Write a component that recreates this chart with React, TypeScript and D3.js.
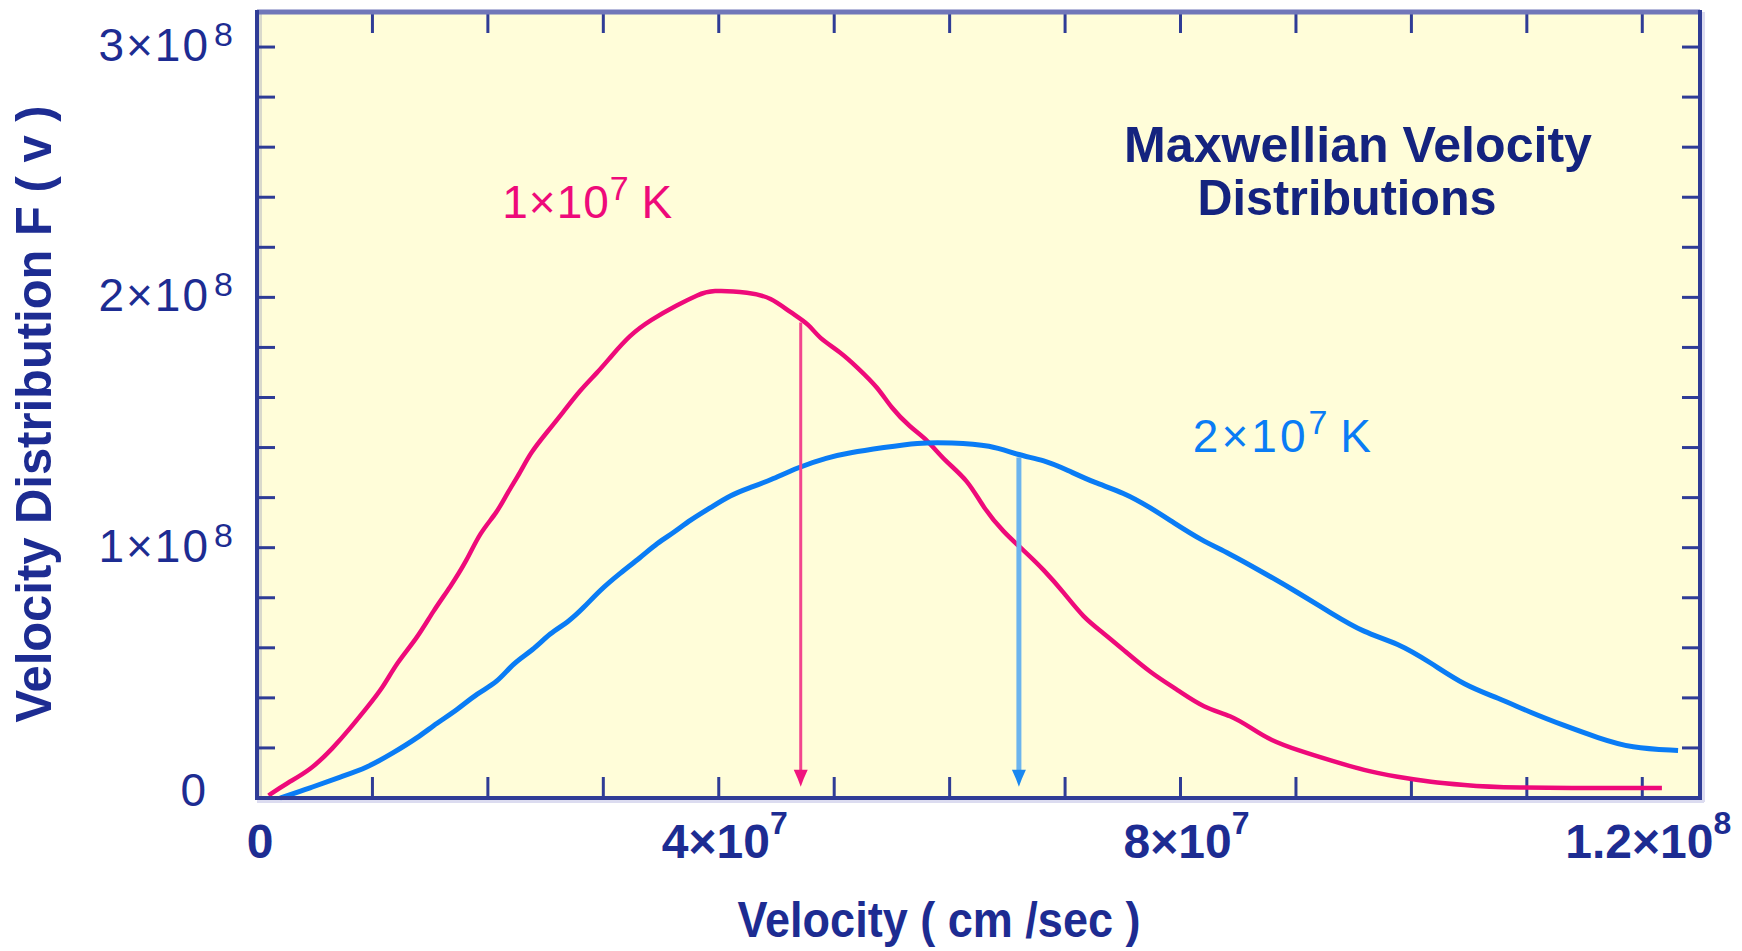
import React from "react";
import * as d3 from "d3";

// ---- data (velocity in cm/s, F(v) in arbitrary units) ----
const redVelocity = [0.10, 0.26, 0.46, 0.66, 0.81, 0.95, 1.09, 1.21, 1.39, 1.53, 1.67, 1.82, 1.93, 2.08, 2.17, 2.28, 2.37, 2.51, 2.65, 2.80, 2.95, 3.06, 3.23, 3.41, 3.64, 3.82, 3.93, 4.27, 4.45, 4.62, 4.79, 4.86, 5.06, 5.20, 5.38, 5.49, 5.66, 5.81, 5.95, 6.16, 6.29, 6.47, 6.64, 6.82, 6.99, 7.16, 7.33, 7.51, 7.74, 7.98, 8.20, 8.44, 8.61, 8.78, 9.02, 9.30, 9.59, 9.88, 10.17, 10.46, 10.75, 12.17].map(v => v * 1e7);
const redF = [0.01, 0.06, 0.11, 0.20, 0.28, 0.36, 0.44, 0.54, 0.64, 0.75, 0.84, 0.95, 1.06, 1.14, 1.22, 1.30, 1.38, 1.46, 1.54, 1.63, 1.70, 1.76, 1.85, 1.91, 1.97, 2.01, 2.03, 2.02, 2.00, 1.94, 1.89, 1.84, 1.78, 1.72, 1.64, 1.56, 1.48, 1.43, 1.35, 1.27, 1.16, 1.06, 0.99, 0.91, 0.82, 0.72, 0.66, 0.59, 0.50, 0.43, 0.36, 0.33, 0.28, 0.23, 0.19, 0.15, 0.11, 0.084, 0.064, 0.052, 0.04, 0.04].map(f => f * 1e8);

const blueVelocity = [0.20, 0.46, 0.72, 0.95, 1.18, 1.39, 1.56, 1.73, 1.91, 2.08, 2.22, 2.39, 2.54, 2.69, 2.83, 2.97, 3.15, 3.32, 3.47, 3.61, 3.75, 3.93, 4.10, 4.27, 4.45, 4.68, 4.94, 5.14, 5.43, 5.72, 6.01, 6.36, 6.59, 6.82, 7.02, 7.25, 7.51, 7.74, 7.94, 8.18, 8.41, 8.72, 9.02, 9.30, 9.59, 9.88, 10.17, 10.46, 10.75, 11.04, 11.32, 11.62, 11.90, 12.31].map(v => v * 1e7);
const blueF = [0.0, 0.04, 0.084, 0.12, 0.18, 0.24, 0.30, 0.35, 0.42, 0.46, 0.54, 0.59, 0.66, 0.70, 0.76, 0.83, 0.90, 0.96, 1.02, 1.06, 1.11, 1.16, 1.21, 1.24, 1.27, 1.32, 1.36, 1.38, 1.40, 1.42, 1.42, 1.41, 1.37, 1.35, 1.31, 1.26, 1.22, 1.16, 1.10, 1.03, 0.98, 0.90, 0.82, 0.74, 0.66, 0.62, 0.54, 0.45, 0.40, 0.34, 0.29, 0.24, 0.20, 0.19].map(f => f * 1e8);

// mean-speed arrows
const arrowVelocity = [4.71e7, 6.60e7];
const arrowTopF = [1.90e8, 1.36e8];
const arrowTipF = 0.045e8;

// tick labels
const xLabelValues = [0, 4e7, 8e7, 1.2e8];
const xLabelBases = ["0", "4×10", "8×10", "1.2×10"];
const xLabelExps = ["", "7", "7", "8"];
const yLabelValues = [0, 1e8, 2e8, 3e8];
const yLabelBases = ["0", "1×10", "2×10", "3×10"];
const yLabelExps = ["", "8", "8", "8"];

const tempLabels = ["1×10", "2×10"];
const tempExps = ["7", "7"];
const tempLabelV = [2.124e7, 8.107e7];
const tempLabelF = [2.317e8, 1.382e8];

// ---- layout ----
const W = 1742, H = 951;
const L = 257, R = 1700, T = 12, B = 798;
const RED = "#ee0a7a";
const BLUE = "#0a7cf5";
const AXIS = "#2f3c96";
const TEXT = "#1d2c92";
const FONT = "'Liberation Sans', Arial, Helvetica, sans-serif";

export default function App() {
  const x = d3.scaleLinear().domain([0, 1.25e8]).range([L, R]);
  const y = d3.scaleLinear().domain([0, 3.14e8]).range([B, T]);

  const line = d3.line<[number, number]>()
    .x(d => x(d[0]))
    .y(d => y(d[1]))
    .curve(d3.curveBasis);

  const redPts = redVelocity.map((v, i) => [v, redF[i]] as [number, number]);
  const bluePts = blueVelocity.map((v, i) => [v, blueF[i]] as [number, number]);

  const xMinor = d3.range(1, 13).map(i => i * 1e7);
  const yMinor = d3.range(1, 16).map(i => i * 0.2e8);

  const arrowColors = ["#f2468e", "#6cb4ee"];
  const headColors = ["#f0157e", "#1a88f0"];
  const arrowWidths = [3, 5];

  return (
    <svg width={W} height={H} style={{ position: "absolute", left: 0, top: 0, display: "block", background: "#ffffff" }} fontFamily={FONT}>
      {/* plot background */}
      <rect x={L} y={T} width={R - L} height={B - T} fill="#fffdd9" />
      {/* soft shadows */}
      <rect x={L + 2} y={T} width={3} height={B - T} fill="#d9d9cc" />
      <rect x={L} y={B + 2} width={R - L + 4} height={3} fill="#dcdcf0" />
      <rect x={R + 2} y={T} width={3} height={B - T + 4} fill="#dcdcf0" />

      {/* ticks */}
      {xMinor.map((v, i) => (
        <g key={"xt" + i} stroke={AXIS} strokeWidth={3}>
          <line x1={x(v)} x2={x(v)} y1={B} y2={B - 21} />
          <line x1={x(v)} x2={x(v)} y1={T} y2={T + 21} />
        </g>
      ))}
      {yMinor.map((v, i) => (
        <g key={"yt" + i} stroke={AXIS} strokeWidth={3}>
          <line x1={L} x2={L + 18} y1={y(v)} y2={y(v)} />
          <line x1={R} x2={R - 18} y1={y(v)} y2={y(v)} />
        </g>
      ))}

      {/* curves */}
      <path d={line(redPts) || ""} fill="none" stroke={RED} strokeWidth={4.5} strokeLinejoin="round" />
      <path d={line(bluePts) || ""} fill="none" stroke={BLUE} strokeWidth={5} strokeLinejoin="round" />

      {/* arrows */}
      {arrowVelocity.map((v, i) => {
        const ax = x(v);
        const tip = y(arrowTipF);
        return (
          <g key={"ar" + i}>
            <line x1={ax} x2={ax} y1={y(arrowTopF[i])} y2={tip - 10} stroke={arrowColors[i]} strokeWidth={arrowWidths[i]} />
            <polygon points={`${ax - 7},${tip - 17} ${ax + 7},${tip - 17} ${ax + 3},${tip - 8} ${ax},${tip} ${ax - 3},${tip - 8}`} fill={headColors[i]} />
          </g>
        );
      })}

      {/* frame */}
      <line x1={L} x2={R} y1={T} y2={T} stroke="#7177b9" strokeWidth={5} />
      <line x1={L} x2={L} y1={T - 2} y2={B + 2} stroke={AXIS} strokeWidth={4} />
      <line x1={R} x2={R} y1={T - 2} y2={B + 2} stroke={AXIS} strokeWidth={4} />
      <line x1={L - 2} x2={R + 2} y1={B} y2={B} stroke={AXIS} strokeWidth={4} />

      {/* y tick labels */}
      {yLabelValues.map((v, i) => (
        <g key={"yl" + i} fill={TEXT}>
          <text x={v === 0 ? 206 : 210} y={y(v) + (v === 0 ? 8 : 14)} fontSize={46} textAnchor="end" letterSpacing={v === 0 ? 0 : 2}>{yLabelBases[i]}</text>
          {yLabelExps[i] && (
            <text x={214} y={y(v) - 1} fontSize={34}>{yLabelExps[i]}</text>
          )}
        </g>
      ))}

      {/* x tick labels */}
      {xLabelValues.map((v, i) => (
        <text key={"xl" + i} x={x(v) + (i === 0 ? 3 : 6)} y={858} fontSize={48} fontWeight="bold" textAnchor="middle" fill={TEXT}>
          <tspan>{xLabelBases[i]}</tspan>
          {xLabelExps[i] && <tspan dy={-24} fontSize={32}>{xLabelExps[i]}</tspan>}
        </text>
      ))}

      {/* axis titles */}
      <text x={939} y={937} fontSize={50} fontWeight="bold" textAnchor="middle" fill={TEXT} textLength={403} lengthAdjust="spacingAndGlyphs">Velocity ( cm /sec )</text>
      <text transform="translate(51,414) rotate(-90)" fontSize={50} fontWeight="bold" textAnchor="middle" fill={TEXT} textLength={617} lengthAdjust="spacingAndGlyphs">Velocity Distribution F ( v )</text>

      {/* chart title */}
      <text x={1358} y={162} fontSize={50} fontWeight="bold" textAnchor="middle" fill="#14237f" textLength={468} lengthAdjust="spacingAndGlyphs">Maxwellian Velocity</text>
      <text x={1347} y={215} fontSize={50} fontWeight="bold" textAnchor="middle" fill="#14237f" textLength={299} lengthAdjust="spacingAndGlyphs">Distributions</text>

      {/* temperature labels */}
      {tempLabels.map((t, i) => (
        <text key={"tl" + i} x={x(tempLabelV[i])} y={y(tempLabelF[i])} fontSize={46} fill={i === 0 ? RED : BLUE}>
          <tspan letterSpacing={i === 1 ? 3 : 1}>{t}</tspan>
          <tspan dy={-18} fontSize={34}>{tempExps[i]}</tspan>
          <tspan dy={18}> K</tspan>
        </text>
      ))}
    </svg>
  );
}
